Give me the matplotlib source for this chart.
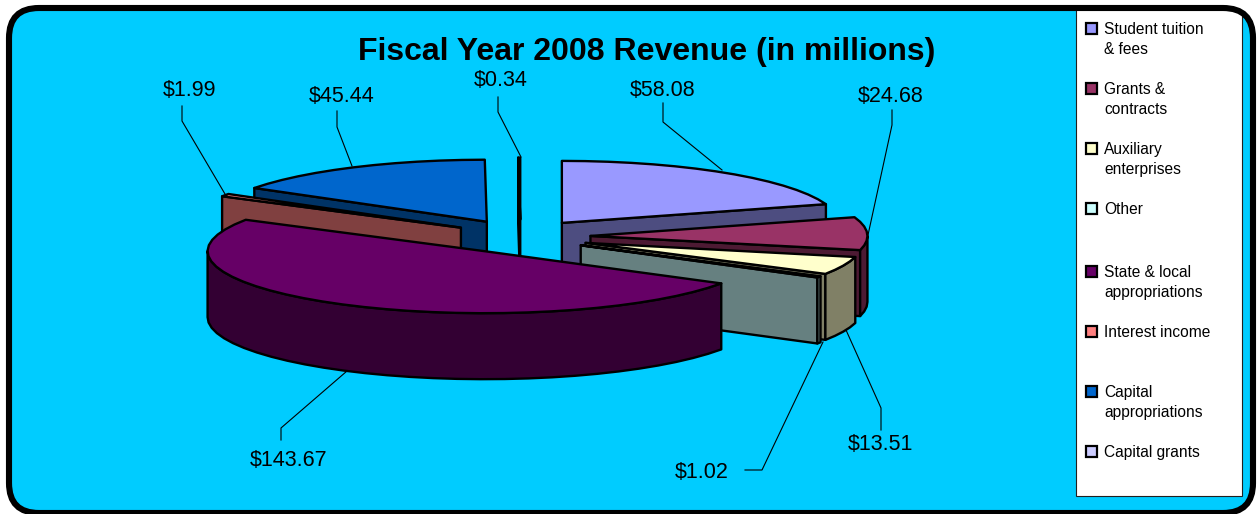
import numpy as np
import matplotlib
matplotlib.use("Agg")
import matplotlib.pyplot as plt
from matplotlib.patches import Polygon, Rectangle, FancyBboxPatch

plt.rcParams['font.family'] = ['Liberation Sans', 'DejaVu Sans']

categories = ["Student tuition\n& fees", "Grants &\ncontracts", "Auxiliary\nenterprises", "Other",
              "State & local\nappropriations", "Interest income", "Capital\nappropriations", "Capital grants"]
values = [58.08, 24.68, 13.51, 1.02, 143.67, 1.99, 45.44, 0.34]
top_colors = ["#9999FF", "#993366", "#FFFFCC", "#CCFFFF", "#660066", "#FF8080", "#0066CC", "#CCCCFF"]
side_colors = ["#4D4D80", "#4D1A33", "#808066", "#668080", "#330033", "#804040", "#003366", "#666680"]
legend_y = [28, 88, 148, 208, 271, 331, 391, 451]

# value label position and its leader line, one entry per slice
label_pos = [(663, 91), (891, 97), (880, 445), (702, 472), (289, 460), (190, 91), (342, 97), (501, 81)]
leaders = [
    [(663, 103), (663, 122), (722, 170)],
    [(892, 110), (892, 125), (868, 235)],
    [(881, 430), (881, 408), (846, 330)],
    [(745, 470), (762, 470), (823, 342)],
    [(281, 440), (281, 428), (347, 371)],
    [(182, 106), (182, 121), (225, 194)],
    [(337, 111), (337, 127), (352, 166)],
    [(498, 97), (498, 112), (521, 157)],
]

# pie projection, in pixels
CX, CY = 520.5, 236.6
RX, RY = 277.0, 62.0
EXPLODE_X, EXPLODE_Y = 70.0, 17.0
DEPTH = 66.0
EDGE = 1.7

# back slices first so the front ones cover them
draw_order = [7, 0, 6, 5, 1, 2, 3, 4]


def rim(cx, cy, start, end):
    n = max(2, int((end - start) / 5) + 2)
    t = np.radians(np.linspace(start, end, n))
    return np.column_stack([cx + RX * np.sin(t), cy - RY * np.cos(t)])


def add_poly(ax, pts, color):
    ax.add_patch(Polygon(pts, closed=True, facecolor=color, edgecolor="black",
                         linewidth=EDGE, joinstyle="round"))


def draw_slice(ax, start, end, top, side):
    mid = np.radians((start + end) / 2)
    cx = CX + EXPLODE_X * np.sin(mid)
    cy = CY - EXPLODE_Y * np.cos(mid)
    apex = np.array([[cx, cy]])
    down = np.array([0, DEPTH])

    # cut faces, visible only when they turn towards the viewer
    if np.sin(np.radians(start)) < 0:
        edge = rim(cx, cy, start, start)[:1]
        add_poly(ax, np.vstack([apex, edge, edge + down, apex + down]), side)
    if np.sin(np.radians(end)) > 0:
        edge = rim(cx, cy, end, end)[:1]
        add_poly(ax, np.vstack([apex, edge, edge + down, apex + down]), side)

    # outer wall for the part of the rim that faces front
    a0, a1 = max(start, 90), min(end, 270)
    if a1 > a0:
        arc = rim(cx, cy, a0, a1)
        add_poly(ax, np.vstack([arc, arc[::-1] + down]), side)

    add_poly(ax, np.vstack([apex, rim(cx, cy, start, end)]), top)


fig = plt.figure(figsize=(12.58, 5.14), dpi=100, facecolor="white")
ax = fig.add_axes([0, 0, 1, 1])
ax.set_xlim(0, 1258)
ax.set_ylim(514, 0)
ax.axis("off")

# rounded chart area with the legend panel clipped to it
back = FancyBboxPatch((9, 8), 1244, 505, boxstyle="round,pad=0,rounding_size=30",
                      facecolor="#00CCFF", edgecolor="none", zorder=0)
ax.add_patch(back)
panel = Rectangle((1076, 0), 166, 495.5, facecolor="white", edgecolor="#202020", linewidth=0.8, zorder=1)
ax.add_patch(panel)
panel.set_clip_path(back)
ax.add_patch(FancyBboxPatch((9, 8), 1244, 505, boxstyle="round,pad=0,rounding_size=30",
                            facecolor="none", edgecolor="black", linewidth=4.4, zorder=6))

ax.text(647, 52, "Fiscal Year 2008 Revenue (in millions)", fontsize=23.0, fontweight="bold",
        ha="center", va="center", color="black", zorder=5)

# slice angles run clockwise from twelve o'clock
sweep = np.array(values) / np.sum(values) * 360
ends = np.cumsum(sweep)
starts = ends - sweep

for i in draw_order:
    draw_slice(ax, starts[i], ends[i], top_colors[i], side_colors[i])

for i in range(len(values)):
    xs, ys = zip(*leaders[i])
    ax.plot(xs, ys, color="black", linewidth=0.8, zorder=4)
    ax.text(label_pos[i][0], label_pos[i][1], "$%.2f" % values[i], fontsize=15.5,
            ha="center", va="center", color="black", zorder=5, parse_math=False)

for i in range(len(categories)):
    ax.add_patch(Rectangle((1086, legend_y[i] - 5), 10.5, 10.5, facecolor=top_colors[i],
                           edgecolor="black", linewidth=1.6, zorder=5))
    ax.text(1104, legend_y[i] - 6, categories[i], fontsize=11.2, va="top", ha="left",
            linespacing=1.42, color="black", zorder=5)

fig.savefig("out.png", dpi=100, facecolor="white")
